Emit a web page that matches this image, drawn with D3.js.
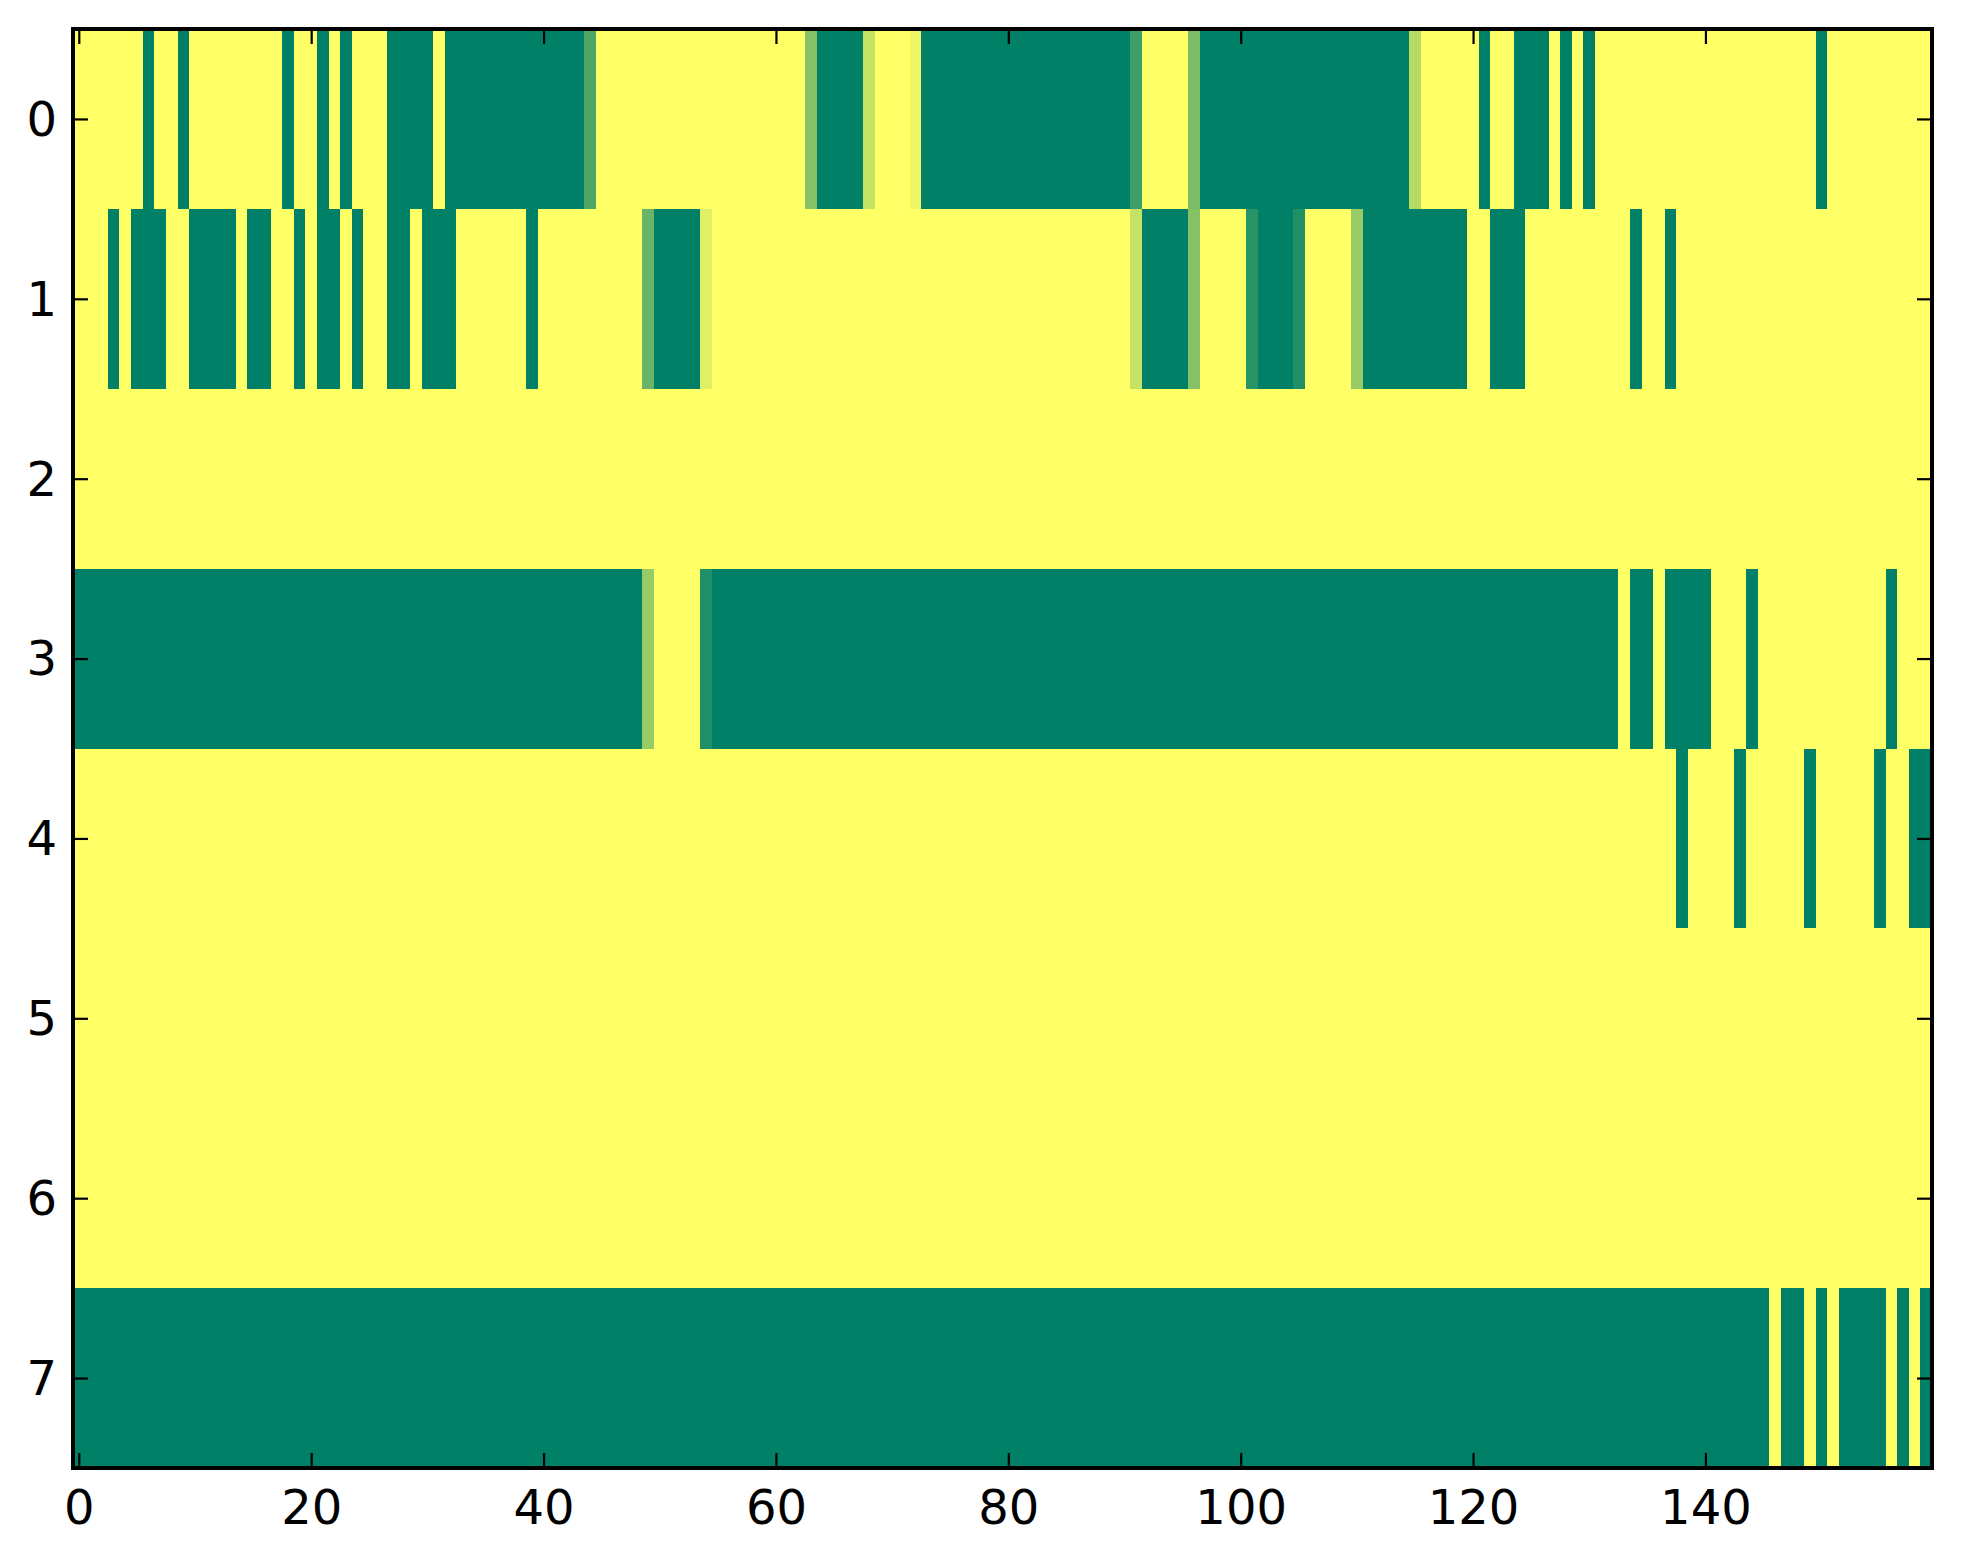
<!DOCTYPE html>
<html>
<head>
<meta charset="utf-8">
<script src="https://cdn.jsdelivr.net/npm/d3@7"></script>
<style>
  html, body { margin: 0; padding: 0; background: #ffffff; }
  svg { display: block; }
  text { font-family: "DejaVu Sans", sans-serif; }
</style>
</head>
<body>
<script>
// ---- data: 8 rows x 160 columns, values 0..1 (summer colormap: 0 = green, 1 = yellow)
const xTicks = [0, 20, 40, 60, 80, 100, 120, 140];
const yTicks = [0, 1, 2, 3, 4, 5, 6, 7];

const row0 = [
  1,1,1,1,1,1,0,1,1,0,
  1,1,1,1,1,1,1,1,0,1,
  1,0,1,0,1,1,1,0,0,0,
  0,1,0,0,0,0,0,0,0,0,
  0,0,0,0,0.3,1,1,1,1,1,
  1,1,1,1,1,1,1,1,1,1,
  1,1,1,0.52,0,0,0,0,0.77,1,
  1,1,0.94,0,0,0,0,0,0,0,
  0,0,0,0,0,0,0,0,0,0,
  0,0.24,1,1,1,1,0.48,0,0,0,
  0,0,0,0,0,0,0,0,0,0,
  0,0,0,0,0,0.71,1,1,1,1,
  1,0,1,1,0,0,0,1,0,1,
  0,1,1,1,1,1,1,1,1,1,
  1,1,1,1,1,1,1,1,1,1,
  0,1,1,1,1,1,1,1,1,1
];
const row1 = [
  1,1,1,0,1,0,0,0,1,1,
  0,0,0,0,1,0,0,1,1,0,
  1,0,0,1,0,1,1,0,0,1,
  0,0,0,1,1,1,1,1,1,0,
  1,1,1,1,1,1,1,1,1,0.41,
  0,0,0,0,0.88,1,1,1,1,1,
  1,1,1,1,1,1,1,1,1,1,
  1,1,1,1,1,1,1,1,1,1,
  1,1,1,1,1,1,1,1,1,1,
  1,0.77,0,0,0,0,0.52,1,1,1,
  1,0.16,0,0,0,0.12,1,1,1,1,
  0.59,0,0,0,0,0,0,0,0,0,
  1,1,0,0,0,1,1,1,1,1,
  1,1,1,1,0,1,1,0,1,1,
  1,1,1,1,1,1,1,1,1,1,
  1,1,1,1,1,1,1,1,1,1
];
const row2 = [
  1,1,1,1,1,1,1,1,1,1, 1,1,1,1,1,1,1,1,1,1,
  1,1,1,1,1,1,1,1,1,1, 1,1,1,1,1,1,1,1,1,1,
  1,1,1,1,1,1,1,1,1,1, 1,1,1,1,1,1,1,1,1,1,
  1,1,1,1,1,1,1,1,1,1, 1,1,1,1,1,1,1,1,1,1,
  1,1,1,1,1,1,1,1,1,1, 1,1,1,1,1,1,1,1,1,1,
  1,1,1,1,1,1,1,1,1,1, 1,1,1,1,1,1,1,1,1,1,
  1,1,1,1,1,1,1,1,1,1, 1,1,1,1,1,1,1,1,1,1,
  1,1,1,1,1,1,1,1,1,1, 1,1,1,1,1,1,1,1,1,1
];
const row3 = [
  0,0,0,0,0,0,0,0,0,0, 0,0,0,0,0,0,0,0,0,0,
  0,0,0,0,0,0,0,0,0,0, 0,0,0,0,0,0,0,0,0,0,
  0,0,0,0,0,0,0,0,0,0.59,
  1,1,1,1,0.12,0,0,0,0,0,
  0,0,0,0,0,0,0,0,0,0, 0,0,0,0,0,0,0,0,0,0,
  0,0,0,0,0,0,0,0,0,0, 0,0,0,0,0,0,0,0,0,0,
  0,0,0,0,0,0,0,0,0,0, 0,0,0,0,0,0,0,0,0,0,
  0,0,0,0,0,0,0,0,0,0,
  0,0,0,1,0,0,1,0,0,0,
  0,1,1,1,0,1,1,1,1,1,
  1,1,1,1,1,1,0,1,1,1
];
const row4 = [
  1,1,1,1,1,1,1,1,1,1, 1,1,1,1,1,1,1,1,1,1,
  1,1,1,1,1,1,1,1,1,1, 1,1,1,1,1,1,1,1,1,1,
  1,1,1,1,1,1,1,1,1,1, 1,1,1,1,1,1,1,1,1,1,
  1,1,1,1,1,1,1,1,1,1, 1,1,1,1,1,1,1,1,1,1,
  1,1,1,1,1,1,1,1,1,1, 1,1,1,1,1,1,1,1,1,1,
  1,1,1,1,1,1,1,1,1,1, 1,1,1,1,1,1,1,1,1,1,
  1,1,1,1,1,1,1,1,1,1,
  1,1,1,1,1,1,1,1,0,1,
  1,1,1,0,1,1,1,1,1,0,
  1,1,1,1,1,0,1,1,0,0
];
const row5 = [
  1,1,1,1,1,1,1,1,1,1, 1,1,1,1,1,1,1,1,1,1,
  1,1,1,1,1,1,1,1,1,1, 1,1,1,1,1,1,1,1,1,1,
  1,1,1,1,1,1,1,1,1,1, 1,1,1,1,1,1,1,1,1,1,
  1,1,1,1,1,1,1,1,1,1, 1,1,1,1,1,1,1,1,1,1,
  1,1,1,1,1,1,1,1,1,1, 1,1,1,1,1,1,1,1,1,1,
  1,1,1,1,1,1,1,1,1,1, 1,1,1,1,1,1,1,1,1,1,
  1,1,1,1,1,1,1,1,1,1, 1,1,1,1,1,1,1,1,1,1,
  1,1,1,1,1,1,1,1,1,1, 1,1,1,1,1,1,1,1,1,1
];
const row6 = [
  1,1,1,1,1,1,1,1,1,1, 1,1,1,1,1,1,1,1,1,1,
  1,1,1,1,1,1,1,1,1,1, 1,1,1,1,1,1,1,1,1,1,
  1,1,1,1,1,1,1,1,1,1, 1,1,1,1,1,1,1,1,1,1,
  1,1,1,1,1,1,1,1,1,1, 1,1,1,1,1,1,1,1,1,1,
  1,1,1,1,1,1,1,1,1,1, 1,1,1,1,1,1,1,1,1,1,
  1,1,1,1,1,1,1,1,1,1, 1,1,1,1,1,1,1,1,1,1,
  1,1,1,1,1,1,1,1,1,1, 1,1,1,1,1,1,1,1,1,1,
  1,1,1,1,1,1,1,1,1,1, 1,1,1,1,1,1,1,1,1,1
];
const row7 = [
  0,0,0,0,0,0,0,0,0,0, 0,0,0,0,0,0,0,0,0,0,
  0,0,0,0,0,0,0,0,0,0, 0,0,0,0,0,0,0,0,0,0,
  0,0,0,0,0,0,0,0,0,0, 0,0,0,0,0,0,0,0,0,0,
  0,0,0,0,0,0,0,0,0,0, 0,0,0,0,0,0,0,0,0,0,
  0,0,0,0,0,0,0,0,0,0, 0,0,0,0,0,0,0,0,0,0,
  0,0,0,0,0,0,0,0,0,0, 0,0,0,0,0,0,0,0,0,0,
  0,0,0,0,0,0,0,0,0,0, 0,0,0,0,0,0,0,0,0,0,
  0,0,0,0,0,0,1,0,0,1,
  0,1,0,0,0,0,1,0,1,0
];
const rows = [row0, row1, row2, row3, row4, row5, row6, row7];

// ---- layout
const W = 1963, H = 1564;
const mLeft = 73, mRight = 1932, mTop = 29, mBottom = 1468;

const svg = d3.select("body").append("svg").attr("width", W).attr("height", H);

const x = d3.scaleLinear().domain([-0.5, 159.5]).range([mLeft, mRight]);
const y = d3.scaleLinear().domain([-0.5, 7.5]).range([mTop, mBottom]);
const color = d3.scaleLinear().domain([0, 1]).range(["#008066", "#ffff66"]).interpolate(d3.interpolateRgb);

const cells = [];
rows.forEach((r, ri) => r.forEach((v, ci) => cells.push({ r: ri, c: ci, v })));

svg.append("g").selectAll("rect").data(cells).join("rect")
  .attr("x", d => x(d.c - 0.5))
  .attr("y", d => y(d.r - 0.5))
  .attr("width", d => x(d.c + 0.5) - x(d.c - 0.5) + 0.6)
  .attr("height", d => y(d.r + 0.5) - y(d.r - 0.5) + 0.6)
  .attr("fill", d => color(d.v))
  .attr("shape-rendering", "crispEdges");

// ---- axes (ticks inside on all four sides)
const tickLen = 15;
const fontSize = 48;

const gB = svg.append("g").attr("transform", `translate(0,${mBottom})`)
  .call(d3.axisBottom(x).tickValues(xTicks).tickSizeInner(-tickLen).tickSizeOuter(0).tickPadding(21));
const gT = svg.append("g").attr("transform", `translate(0,${mTop})`)
  .call(d3.axisTop(x).tickValues(xTicks).tickSizeInner(-tickLen).tickSizeOuter(0).tickFormat(""));
const gL = svg.append("g").attr("transform", `translate(${mLeft},0)`)
  .call(d3.axisLeft(y).tickValues(yTicks).tickSizeInner(-tickLen).tickSizeOuter(0).tickPadding(16));
const gR = svg.append("g").attr("transform", `translate(${mRight},0)`)
  .call(d3.axisRight(y).tickValues(yTicks).tickSizeInner(-tickLen).tickSizeOuter(0).tickFormat(""));

[gB, gT, gL, gR].forEach(g => {
  g.select(".domain").remove();
  g.selectAll(".tick line").attr("stroke", "#000").attr("stroke-width", 2.2);
  g.selectAll(".tick text")
    .attr("fill", "#000")
    .style("font-family", "'DejaVu Sans', sans-serif")
    .style("font-size", fontSize + "px");
});
gB.selectAll(".tick text").attr("dy", "0.73em");
gL.selectAll(".tick text").attr("dy", "0.34em");

// ---- frame
svg.append("rect")
  .attr("x", mLeft).attr("y", mTop)
  .attr("width", mRight - mLeft).attr("height", mBottom - mTop)
  .attr("fill", "none").attr("stroke", "#000").attr("stroke-width", 4);
</script>
</body>
</html>
